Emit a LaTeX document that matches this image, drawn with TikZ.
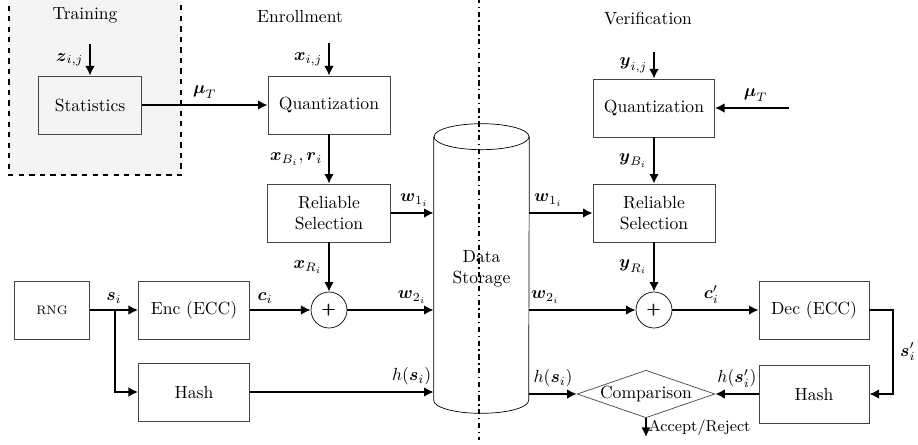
\documentclass[tikz,border=0pt]{standalone}
\usepackage{amsmath,amssymb}
\usepackage{xcolor}
\usepackage{tikz}
\usetikzlibrary{arrows.meta,positioning,shapes.geometric}
\definecolor{trbg}{HTML}{F4F4F4}
\definecolor{bord}{HTML}{444444}

\begin{document}
\begin{tikzpicture}[x=0.02cm,y=-0.02cm,
      every node/.style={align=center},
      blk/.style={draw=bord,fill=white,minimum height=1.16cm},
      xorn/.style={circle,draw,fill=white,minimum size=0.72cm,inner sep=0pt},
      arr/.style={-{Latex[length=5.5pt,width=5.5pt]},line width=1.1pt}
    ]
      \useasboundingbox (0,0) rectangle (918,444);
      % training part
      \draw[dashed,thick,fill=trbg] (9,-5) rectangle (181,175);
      \node (trn) at (85,15) {Training};
      \node[blk,fill=trbg,minimum width=2.06cm] (stat) at (90,105) {Statistics};
      \coordinate (zin) at (90,44);
      % enrollment part
      \node (enr) at (300,16) {Enrollment};
      \node[blk,minimum width=2.44cm] (qe) at (329,105) {Quantization};
      \coordinate (xin) at (329,43);
      \node[blk,minimum width=2.46cm] (rse) at (329,213) {Reliable\\Selection};
      \node[xorn] (xe) at (329,310) {$\pmb{+}$};
      \node[blk,minimum width=1.5cm,font=\scriptsize] (rng) at (52,310) {RNG};
      \node[blk,minimum width=2.22cm] (enc) at (194,310) {Enc (ECC)};
      \node[blk,minimum width=2.22cm] (hse) at (194,392) {Hash};
      % data storage
      \node[minimum width=1.9cm,minimum height=5.26cm] (ds) at (481.5,268.5) {Data\\Storage};
      \draw (ds.north west) -- (ds.south west)
        arc[start angle=180,end angle=360,x radius=0.95cm,y radius=0.26cm]
        -- (ds.north east);
      \draw (ds.north) ellipse[x radius=0.95cm,y radius=0.26cm];
      % verification part
      \node (ver) at (648,18) {Verification};
      \node[blk,minimum width=2.42cm] (qv) at (654,108) {Quantization};
      \coordinate (yin) at (654,52);
      \coordinate (muin) at (789,108);
      \node[blk,minimum width=2.44cm] (rsv) at (654,213) {Reliable\\Selection};
      \node[xorn] (xv) at (654,310) {$\pmb{+}$};
      \node[blk,minimum width=2.2cm] (dec) at (814,310) {Dec (ECC)};
      \node[blk,minimum width=2.2cm] (hsv) at (814,394) {Hash};
      \node[diamond,draw=bord,aspect=2.9,inner sep=0pt,
            minimum width=2.66cm,minimum height=0.9cm] (cmp) at (646,394) {Comparison};
      \coordinate (out) at (646,437);

      % enrollment connectors
      \draw[arr] (zin) -- node[left]{$\boldsymbol{z}_{i,j}$} (stat);
      \draw[arr] (stat) -- node[above]{$\boldsymbol{\mu}_T$} (qe);
      \draw[arr] (xin) -- node[left]{$\boldsymbol{x}_{i,j}$} (qe);
      \draw[arr] (qe) -- node[left]{$\boldsymbol{x}_{B_i},\boldsymbol{r}_i$} (rse);
      \draw[arr] (rse) -- node[left]{$\boldsymbol{x}_{R_i}$} (xe);
      \draw[arr] (rse.east) -- node[above,pos=0.55]{$\boldsymbol{w}_{1_i}$} (rse.east -| ds.west);
      \draw[arr] (rng) -- node[above]{$\boldsymbol{s}_i$} (enc);
      \draw[arr] (rng.east) -- ++(25,0) |- (hse.west);
      \draw[arr] (enc) -- node[above,pos=0.25]{$\boldsymbol{c}_i$} (xe);
      \draw[arr] (xe) -- node[above,pos=0.75]{$\boldsymbol{w}_{2_i}$} (xe -| ds.west);
      \draw[arr] (hse) -- node[above,pos=0.88]{$h(\boldsymbol{s}_i)$} (hse -| ds.west);

      % verification connectors
      \draw[arr] (yin) -- node[left]{$\boldsymbol{y}_{i,j}$} (qv);
      \draw[arr] (muin) -- node[above,pos=0.45]{$\boldsymbol{\mu}_T$} (qv);
      \draw[arr] (qv) -- node[left]{$\boldsymbol{y}_{B_i}$} (rsv);
      \draw[arr] (rsv) -- node[left]{$\boldsymbol{y}_{R_i}$} (xv);
      \draw[arr] (rsv.west -| ds.east) -- node[above,pos=0.3]{$\boldsymbol{w}_{1_i}$} (rsv.west);
      \draw[arr] (xv -| ds.east) -- node[above,pos=0.15]{$\boldsymbol{w}_{2_i}$} (xv);
      \draw[arr] (xv) -- node[above,pos=0.45]{$\boldsymbol{c}'_i$} (dec);
      \draw[arr] (dec.east) -- ++(24,0) |- node[pos=0.25,right]{$\boldsymbol{s}'_i$} (hsv.east);
      \draw[arr] (hsv) -- node[above]{$h(\boldsymbol{s}'_i)$} (cmp);
      \draw[arr] (cmp.west -| ds.east) -- node[above]{$h(\boldsymbol{s}_i)$} (cmp.west);
      \draw[arr] (cmp.south) -- node[right,font=\small,inner sep=1pt]{Accept/Reject} (out);

      % divider
      \draw[thick,dash dot] (479,-2) -- (479,440);
    \end{tikzpicture}
\end{document}
